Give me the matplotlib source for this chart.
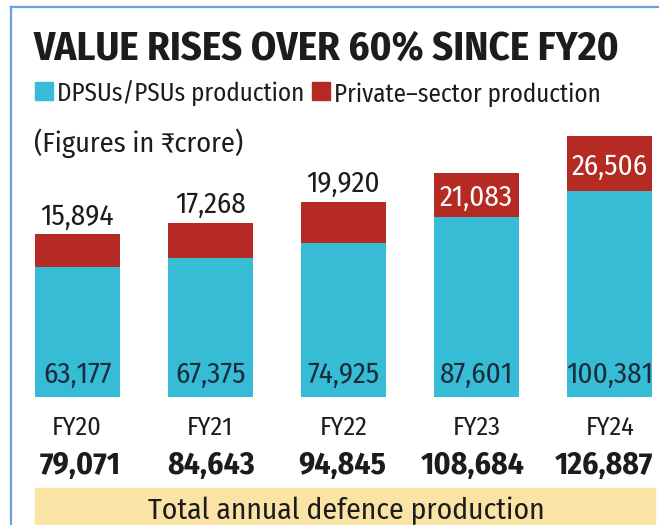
import matplotlib
matplotlib.use("Agg")
import matplotlib.pyplot as plt
from matplotlib import font_manager
from matplotlib.lines import Line2D
from matplotlib.patches import Rectangle

years = ["FY20", "FY21", "FY22", "FY23", "FY24"]
psu = [63177, 67375, 74925, 87601, 100381]
private = [15894, 17268, 19920, 21083, 26506]
totals = [79071, 84643, 94845, 108684, 126887]

CYAN = "#36bdd5"
RED = "#b52a22"
BAND = "#fbe3a6"
BORDER = "#6a9fe0"
INK = "#1c1c1c"
NAVY = "#1b2b3c"

# a condensed face if there is one, else DejaVu
names = {f.name for f in font_manager.fontManager.ttflist}
cond = [c for c in ["Fira Sans Condensed", "Roboto Condensed",
                    "Liberation Sans Narrow"] if c in names]
FAM = cond[:1] + ["DejaVu Sans"]
plt.rcParams["font.family"] = FAM

# the reference face is narrower than ours: let the labels run a bit
# wider than in the reference so they keep more of their height
WIDEN = 1.13

W, H = 659, 525
fig = plt.figure(figsize=(W / 100, H / 100), dpi=100)
fig.patch.set_facecolor("white")
renderer = fig.canvas.get_renderer()


def px(x, y):
    return x / W, 1 - y / H


def size_for(s, width, **kw):
    # font size at which s is `width` pixels wide
    t = fig.text(0, 0, s, fontsize=20, **kw)
    bb = t.get_window_extent(renderer)
    t.remove()
    return 20 * width / bb.width


# border, left and top
fig.add_artist(Line2D([11 / W, 11 / W], [0, 1 - 7 / H], color=BORDER, lw=1.6,
                      transform=fig.transFigure))
fig.add_artist(Line2D([11 / W, 1], [1 - 7 / H, 1 - 7 / H], color=BORDER, lw=1.6,
                      transform=fig.transFigure))

# title
title = "VALUE RISES OVER 60% SINCE FY20"
fig.text(*px(33, 60), title, fontsize=size_for(title, 586, fontweight="bold"),
         fontweight="bold", color=INK, va="baseline", ha="left")

# legend
leg_fs = size_for("DPSUs/PSUs production", 236 * 1.05)
fig.add_artist(Rectangle(px(35, 100), 18 / W, 18 / H, color=CYAN,
                         transform=fig.transFigure))
fig.text(*px(57, 102), "DPSUs/PSUs production", fontsize=leg_fs, color=INK,
         va="baseline")
fig.add_artist(Rectangle(px(312, 100), 18 / W, 18 / H, color=RED,
                         transform=fig.transFigure))
fig.text(*px(334, 102), "Private\u2013sector production", fontsize=leg_fs,
         color=INK, va="baseline")

note = "(Figures in \u20b9crore)"
fig.text(*px(34, 152), note, fontsize=size_for(note, 186 * WIDEN), color=INK,
         va="baseline")

# bars
ax = fig.add_axes([35 / W, 1 - 397 / H, (652 - 35) / W, (397 - 130) / H])
x = range(len(years))
ax.bar(x, psu, width=0.638, color=CYAN)
ax.bar(x, private, bottom=psu, width=0.638, color=RED)
ax.set_xlim(-0.319, 4.319)
ax.set_ylim(0, 129800)
ax.axis("off")

val_fs = size_for("74,925", 69 * 1.05)
for i in x:
    ax.text(i, 6800, f"{psu[i]:,}", ha="center", va="baseline",
            fontsize=val_fs, color=NAVY)
    if i < 3:
        ax.annotate(f"{private[i]:,}", (i, totals[i]), xytext=(0, 7),
                    textcoords="offset points", ha="center", va="baseline",
                    fontsize=val_fs, color=INK)
    else:
        ax.text(i, psu[i] + private[i] / 2, f"{private[i]:,}", ha="center",
                va="center_baseline", fontsize=val_fs, color="white")

# category labels and totals under the bars
yr_fs = size_for("FY20", 44 * WIDEN)
tot_fs = size_for("84,643", 82 * 1.07, fontweight="bold")
for i in x:
    fig.text(*px(77 + i * 133.2, 435), years[i], ha="center", va="baseline",
             fontsize=yr_fs, color=INK)
    # the totals row is a little tighter than the bars
    fig.text(*px(80 + i * 131, 474), f"{totals[i]:,}", ha="center",
             va="baseline", fontsize=tot_fs, fontweight="bold", color=INK)

fig.add_artist(Rectangle(px(35, 525), (655 - 35) / W, (525 - 488) / H,
                         color=BAND, transform=fig.transFigure))
band = "Total annual defence production"
fig.text(*px(346, 519), band, ha="center", va="baseline",
         fontsize=size_for(band, 352 * WIDEN), color=INK)

fig.savefig("out.png", dpi=100)
